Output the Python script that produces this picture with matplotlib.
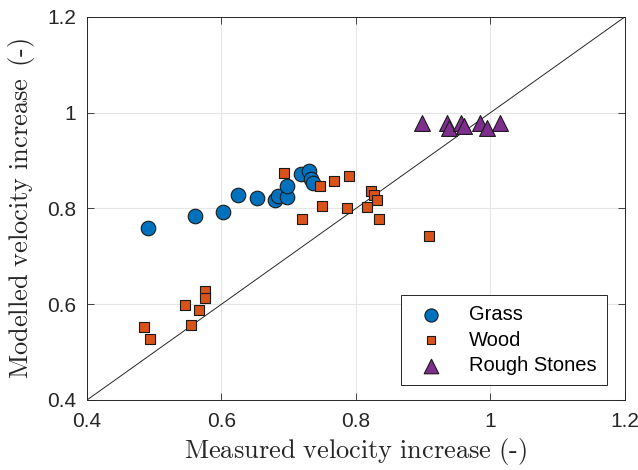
import numpy as np
import matplotlib
matplotlib.use("Agg")
import matplotlib.pyplot as plt

plt.rcParams['font.family'] = ['Liberation Sans', 'DejaVu Sans']
plt.rcParams['mathtext.fontset'] = 'cm'

# measured vs modelled velocity increase per surface type
grass_x = [0.491, 0.561, 0.602, 0.625, 0.653, 0.679, 0.684, 0.697, 0.697, 0.718, 0.730, 0.733, 0.736]
grass_y = [0.759, 0.784, 0.792, 0.828, 0.821, 0.818, 0.826, 0.823, 0.847, 0.872, 0.878, 0.861, 0.854]

wood_x = [0.693, 0.746, 0.768, 0.790, 0.750, 0.720, 0.786, 0.822, 0.827, 0.831, 0.817, 0.835, 0.909,
          0.575, 0.575, 0.545, 0.567, 0.485, 0.555, 0.494]
wood_y = [0.873, 0.846, 0.857, 0.867, 0.805, 0.779, 0.800, 0.837, 0.828, 0.817, 0.803, 0.779, 0.742,
          0.628, 0.613, 0.599, 0.588, 0.552, 0.556, 0.527]

stones_x = [0.899, 0.935, 0.939, 0.956, 0.984, 0.995, 1.014, 0.961]
stones_y = [0.978, 0.978, 0.969, 0.978, 0.978, 0.969, 0.978, 0.972]

ticks = [0.4, 0.6, 0.8, 1.0, 1.2]
tick_labels = ['0.4', '0.6', '0.8', '1', '1.2']

fig = plt.figure(figsize=(6.38, 4.70), dpi=100)
ax = fig.add_axes([0.1364, 0.149, 0.843, 0.815])

ax.plot([0.4, 1.2], [0.4, 1.2], color='#262626', lw=0.7, zorder=1)

ax.scatter(grass_x, grass_y, s=110, marker='o', c='#0072BD', edgecolors='#1a1a1a',
           linewidths=0.8, label='Grass', zorder=3)
ax.scatter(wood_x, wood_y, s=60, marker='s', c='#D95319', edgecolors='#1a1a1a',
           linewidths=0.8, label='Wood', zorder=3)
ax.scatter(stones_x, stones_y, s=130, marker='^', c='#7E2F8E', edgecolors='#1a1a1a',
           linewidths=0.8, label='Rough Stones', zorder=3)

ax.set_xlim(0.4, 1.2)
ax.set_ylim(0.4, 1.2)
ax.set_xticks(ticks)
ax.set_xticklabels(tick_labels)
ax.set_yticks(ticks)
ax.set_yticklabels(tick_labels)
ax.grid(True, color='#e6e6e6', lw=0.8)
ax.set_axisbelow(True)
ax.tick_params(direction='in', labelsize=15, length=5, width=0.6, top=True, right=True,
               colors='#262626', labelcolor='#262626')
ax.tick_params(axis='x', pad=9)
ax.tick_params(axis='y', pad=8)
for s in ax.spines.values():
    s.set_color('#262626')
    s.set_linewidth(0.7)

ax.set_xlabel(r'$\mathrm{Measured\ velocity\ increase\ (\text{-})}$', fontsize=19,
              color='#262626', labelpad=3)
ax.set_ylabel(r'$\mathrm{Modelled\ velocity\ increase\ \,(\text{-})}$', fontsize=19,
              color='#262626', labelpad=7)

leg = ax.legend(loc='lower right', bbox_to_anchor=(0.9665, 0.039), fontsize=14.5,
                fancybox=False, framealpha=1, edgecolor='#262626', borderpad=0.5,
                handletextpad=0.9, labelspacing=0.32, borderaxespad=0, scatterpoints=1)
leg.get_frame().set_linewidth(0.7)
for h, s in zip(leg.legend_handles, [90, 40, 110]):
    h.set_sizes([s])

fig.savefig('out.png', dpi=100)
